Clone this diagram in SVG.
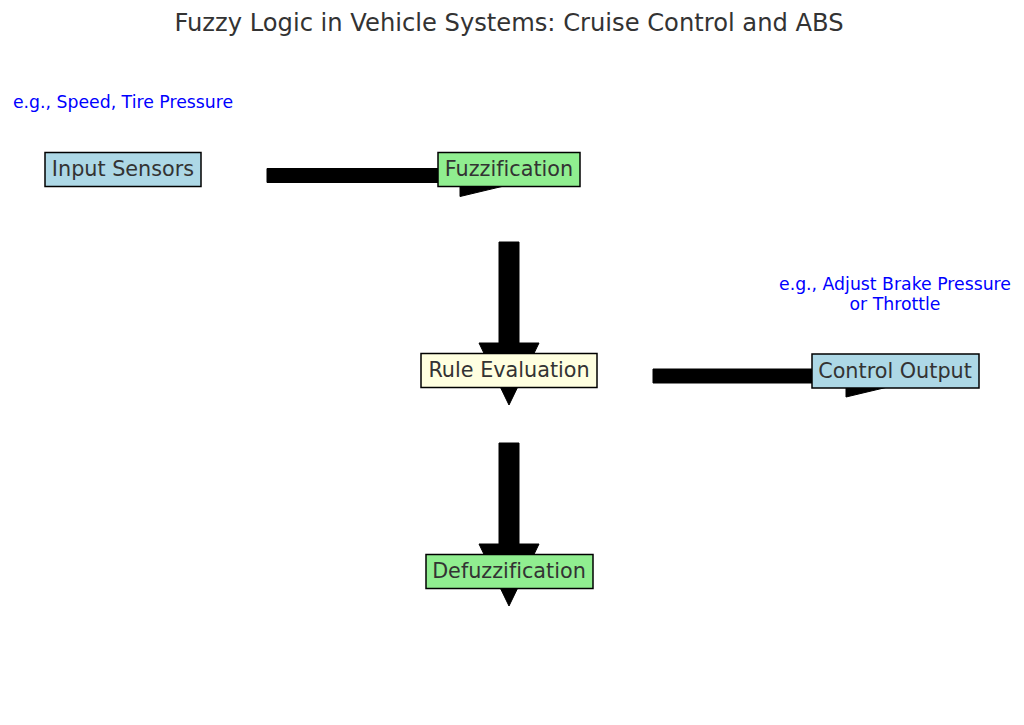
<svg xmlns="http://www.w3.org/2000/svg" width="1024" height="725" viewBox="0 0 1024 725">
<style>
text{font-variant-ligatures:none;font-feature-settings:"liga" 0}
.box{stroke:#000;stroke-width:1.5}
.lbl{font-family:"DejaVu Sans",sans-serif;font-size:20.75px;fill:#333;text-anchor:middle;dominant-baseline:central}
.note{font-family:"DejaVu Sans",sans-serif;font-size:17.3px;fill:#0000ff;text-anchor:middle}
.arrow{fill:#000;stroke:#000;stroke-width:1}
</style>
<rect width="1024" height="725" fill="#fff"/>
<text x="509" y="31" style="font-family:'DejaVu Sans',sans-serif;font-size:24.2px;fill:#333;text-anchor:middle">Fuzzy Logic in Vehicle Systems: Cruise Control and ABS</text>
<g id="connectors">
<polygon class="arrow" points="267,168.5 460,168.5 460,154.5 548,175.5 460,196.5 460,182.5 267,182.5"/>
<polygon class="arrow" points="653,369 846,369 846,355 934,376 846,397 846,383 653,383"/>
<polygon class="arrow" points="499,242 519,242 519,343 539,343 509,405 479,343 499,343"/>
<polygon class="arrow" points="499,443 519,443 519,544 539,544 509,606 479,544 499,544"/>
</g>
<g id="note-input"><text class="note" x="123" y="108">e.g., Speed, Tire Pressure</text></g>
<g id="note-output"><text class="note" x="895" y="290">e.g., Adjust Brake Pressure</text><text class="note" x="895" y="310">or Throttle</text></g>
<g id="input-sensors"><rect class="box" x="45" y="152.5" width="156" height="34" fill="#add8e6"/><text class="lbl" x="123" y="169">Input Sensors</text></g>
<g id="fuzzification"><rect class="box" x="438" y="152.5" width="142" height="34" fill="#90ee90"/><text class="lbl" x="509" y="169">Fuzzification</text></g>
<g id="rule-evaluation"><rect class="box" x="421" y="353.5" width="176" height="34" fill="#ffffe0"/><text class="lbl" x="509" y="370">Rule Evaluation</text></g>
<g id="control-output"><rect class="box" x="812" y="354" width="167" height="34" fill="#add8e6"/><text class="lbl" x="895" y="371">Control Output</text></g>
<g id="defuzzification"><rect class="box" x="426" y="554.5" width="167" height="34" fill="#90ee90"/><text class="lbl" x="509" y="571">Defuzzification</text></g>
</svg>
